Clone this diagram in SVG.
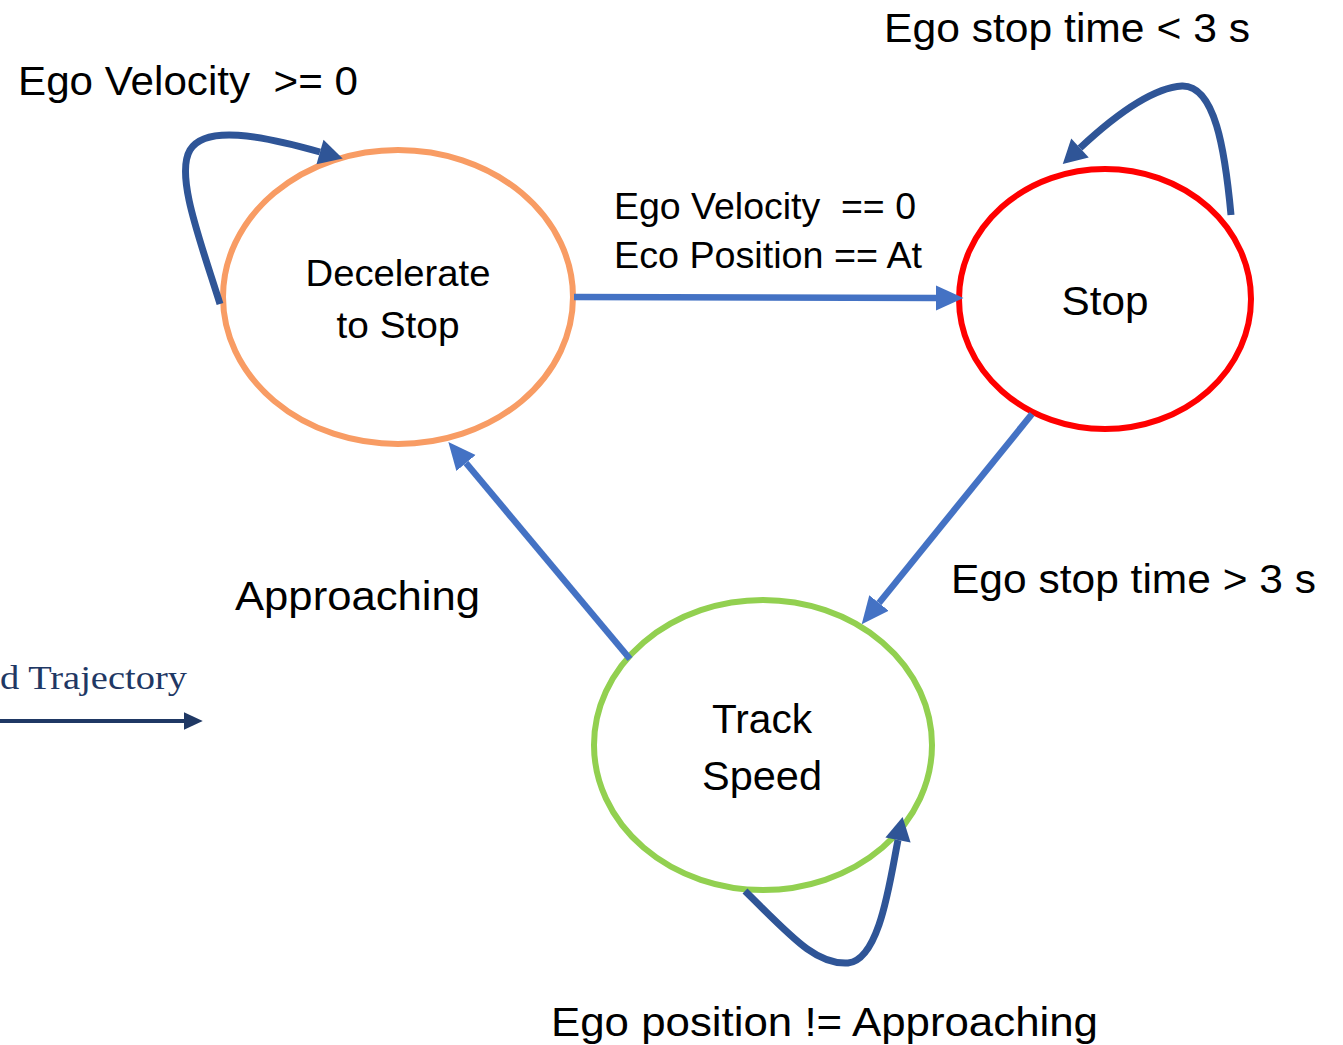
<svg xmlns="http://www.w3.org/2000/svg" width="1343" height="1045" viewBox="0 0 1343 1045">
<style>
.t{font-family:"Liberation Sans",Arial,sans-serif;fill:#000;white-space:pre}
.lg{font-size:41px}
.md{font-size:36px}
.node{fill:#fff;stroke-width:6}
.edge{fill:none;stroke:#4472C4;stroke-width:6.5}
.loop{fill:none;stroke:#2F5597;stroke-width:7}
</style>
<defs>
<marker id="ah" markerUnits="userSpaceOnUse" markerWidth="30" markerHeight="30" viewBox="0 -12 24 24" refX="0" refY="0" orient="auto">
<path d="M0,-10 L22,0 L0,10 Z" fill="#4472C4"/>
</marker>
<marker id="ahl" markerUnits="userSpaceOnUse" markerWidth="30" markerHeight="30" viewBox="0 -14 24 28" refX="0" refY="0" orient="auto">
<path d="M0,-12 L22,0 L0,12 Z" fill="#2F5597"/>
</marker>
<marker id="aht" markerUnits="userSpaceOnUse" markerWidth="20" markerHeight="20" viewBox="0 -8 16 16" refX="0" refY="0" orient="auto">
<path d="M0,-7 L15,0 L0,7 Z" fill="#1F3864"/>
</marker>
</defs>

<g id="node-decelerate">
<ellipse class="node" cx="398" cy="297" rx="175" ry="147" stroke="#F89C64"/>
<text class="t md" x="398" y="286" text-anchor="middle" textLength="185" lengthAdjust="spacingAndGlyphs">Decelerate</text>
<text class="t md" x="398" y="338" text-anchor="middle" textLength="123" lengthAdjust="spacingAndGlyphs">to Stop</text>
</g>

<g id="node-stop">
<ellipse class="node" cx="1105" cy="299" rx="146" ry="130" stroke="#FF0000"/>
<text class="t lg" x="1105" y="315" text-anchor="middle" textLength="87" lengthAdjust="spacingAndGlyphs">Stop</text>
</g>

<g id="node-track">
<ellipse class="node" cx="763" cy="745" rx="169" ry="145" stroke="#92D050"/>
<text class="t lg" x="762" y="733" text-anchor="middle" textLength="100" lengthAdjust="spacingAndGlyphs">Track</text>
<text class="t lg" x="762" y="790" text-anchor="middle" textLength="120" lengthAdjust="spacingAndGlyphs">Speed</text>
</g>

<g id="connectors">
<path class="edge" d="M574,297 L936,298" marker-end="url(#ah)"/>
<path class="edge" d="M1032,414 L879,603" marker-end="url(#ah)"/>
<path class="edge" d="M630,659 L466,463" marker-end="url(#ah)"/>
<path class="loop" d="M220,304 C200,240 175,175 190,150 C205,125 260,135 320,152" marker-end="url(#ahl)"/>
<path class="loop" d="M1231,215 C1225,150 1215,85 1182,86 C1150,88 1110,120 1080,148" marker-end="url(#ahl)"/>
<path class="loop" d="M745,891 C790,935 815,965 848,963 C880,960 890,880 898,840" marker-end="url(#ahl)"/>
</g>

<g id="labels">
<text class="t lg" x="18" y="95" textLength="340" lengthAdjust="spacingAndGlyphs">Ego Velocity  &gt;= 0</text>
<text class="t lg" x="884" y="42" textLength="366" lengthAdjust="spacingAndGlyphs">Ego stop time &lt; 3 s</text>
<text class="t md" x="614" y="219" textLength="302" lengthAdjust="spacingAndGlyphs">Ego Velocity  == 0</text>
<text class="t md" x="614" y="268" textLength="308" lengthAdjust="spacingAndGlyphs">Eco Position == At</text>
<text class="t lg" x="951" y="593" textLength="365" lengthAdjust="spacingAndGlyphs">Ego stop time &gt; 3 s</text>
<text class="t lg" x="235" y="610" textLength="245" lengthAdjust="spacingAndGlyphs">Approaching</text>
<text class="t lg" x="551" y="1036" textLength="547" lengthAdjust="spacingAndGlyphs">Ego position != Approaching</text>
</g>

<g id="trajectory-fragment">
<text x="0" y="689" font-family="'Liberation Serif','Times New Roman',serif" font-size="33" fill="#1F3864" textLength="187" lengthAdjust="spacingAndGlyphs">d Trajectory</text>
<path d="M0,721 L184,721" stroke="#1F3864" stroke-width="4" fill="none" marker-end="url(#aht)"/>
</g>
</svg>
